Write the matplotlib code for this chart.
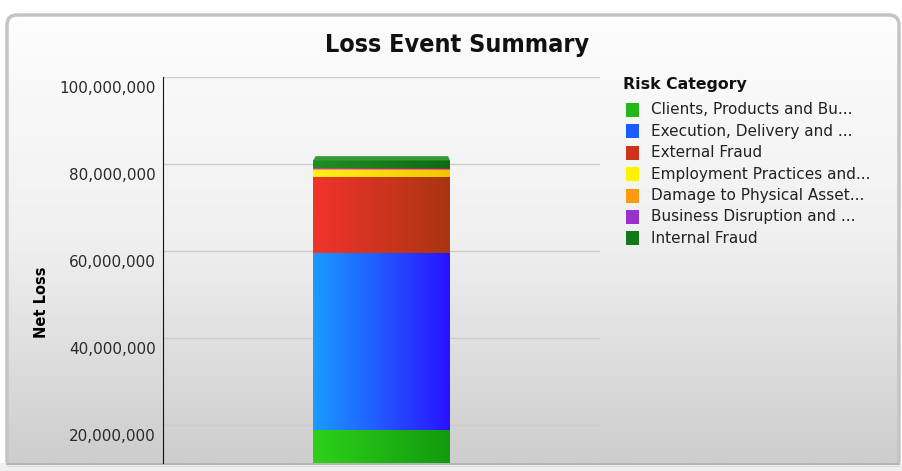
import numpy as np
import matplotlib
matplotlib.use('Agg')
import matplotlib.pyplot as plt
import matplotlib.transforms as mtransforms
from matplotlib.colors import LinearSegmentedColormap
from matplotlib.patches import FancyBboxPatch, Rectangle, Polygon
from matplotlib.ticker import FuncFormatter

categories = ['Clients, Products and Bu...', 'Execution, Delivery and ...', 'External Fraud',
              'Employment Practices and...', 'Damage to Physical Asset...',
              'Business Disruption and ...', 'Internal Fraud']
net_loss = [18.9e6, 40.6e6, 17.5e6, 1.6e6, 0.3e6, 0.1e6, 1.8e6]
# left -> right shading of each segment
shades = [('#2ed11a', '#129a0e'), ('#1a9cff', '#2a12ff'), ('#f2332b', '#a93512'),
          ('#fff21a', '#f2c400'), ('#ffa21a', '#e07800'), ('#a845d8', '#7f22b0'),
          ('#1f8f24', '#0d6a12')]
legend_colors = ['#22b81a', '#1a5cff', '#cc3318', '#fff200', '#ff9a10', '#9932cc', '#117a17']
yticks = [20e6, 40e6, 60e6, 80e6, 100e6]
ymin, ymax = 11.2e6, 100e6

W, H = 903, 471
fig = plt.figure(figsize=(W / 100, H / 100), dpi=100)
fig.patch.set_facecolor('white')

# panel background
bg = fig.add_axes([0, 0, 1, 1], zorder=-10)
bg.set_xlim(0, W)
bg.set_ylim(H, 0)
bg.axis('off')
panel = FancyBboxPatch((7, 15), 892, 490, boxstyle='round,pad=0,rounding_size=10',
                       facecolor='none', edgecolor='#c4c4c4', linewidth=2.5)
bg.add_patch(panel)
grad = np.linspace(0, 1, 256).reshape(-1, 1)
panel_cmap = LinearSegmentedColormap.from_list('panel', ['#fdfdfd', '#f0f0f0', '#cdcdcd'])
im = bg.imshow(grad, cmap=panel_cmap, extent=(7, 899, 463, 15), aspect='auto')
im.set_clip_path(panel)
bg.add_patch(Rectangle((0, 463), W, 10, facecolor='#efefef', edgecolor='none', zorder=5))
bg.plot([7, 899], [463.5, 463.5], color='#a8a8a8', lw=1.2, zorder=6)
bg.plot([7, 899], [465.5, 465.5], color='#dddddd', lw=1, zorder=6)

ax = fig.add_axes([163 / W, 1 - 463 / H, (600 - 163) / W, (463 - 77) / H])
ax.patch.set_alpha(0)

ax.set_yticks(yticks)
ax.yaxis.set_major_formatter(FuncFormatter(lambda v, p: f'{int(v):,}'))
ax.tick_params(axis='y', length=0, pad=5, labelsize=11, labelcolor='#2a2a2a')
shift = mtransforms.ScaledTranslation(0, -10 / 100, fig.dpi_scale_trans)
for lbl in ax.get_yticklabels():
    lbl.set_transform(lbl.get_transform() + shift)
ax.set_xticks([])
ax.grid(axis='y', color='#cccccc', lw=1)
ax.set_axisbelow(True)
for s in ['top', 'right', 'bottom']:
    ax.spines[s].set_visible(False)
ax.spines['left'].set_color('#111111')
ax.set_ylabel('Net Loss', fontsize=10.5, fontweight='bold')
ax.yaxis.set_label_coords(-0.262, 0.417)

bw = 0.313
bottoms = np.concatenate([[0], np.cumsum(net_loss)[:-1]])
bars = ax.bar(0, net_loss, bw, bottom=bottoms, color=legend_colors, zorder=3)
for bar, (c0, c1) in zip(bars, shades):
    cm = LinearSegmentedColormap.from_list('seg', [c0, c1])
    x0 = bar.get_x()
    y0 = bar.get_y()
    y1 = y0 + bar.get_height()
    if y1 <= ymin:
        continue
    img = ax.imshow(np.linspace(0, 1, 128).reshape(1, -1), cmap=cm, aspect='auto',
                    extent=(x0, x0 + bw, max(y0, ymin), y1), zorder=4)
    img.set_clip_path(bar)
    # narrow side face
    ax.add_patch(Rectangle((x0 + bw - 0.012, y0), 0.012, bar.get_height(),
                           facecolor=c1, edgecolor='none', alpha=0.85, zorder=5))
ax.set_xlim(-0.5, 0.5)
ax.set_ylim(ymin, ymax)

# top face of the stack
total = sum(net_loss)
x0 = -bw / 2
ax.add_patch(Polygon([(x0, total), (x0 + 0.006, total + 1.0e6), (x0 + bw - 0.004, total + 1.0e6),
                      (x0 + bw, total)], closed=True, facecolor='#3a9a3a',
                     edgecolor='none', zorder=6))

fig.text(0.5065, 1 - 45 / H, 'Loss Event Summary', ha='center', va='center',
         fontsize=18, fontweight='bold', fontstretch='condensed', color='#111111',
         family='DejaVu Sans')

# legend
lx, ly = 623, 85
fig.text(lx / W, 1 - ly / H, 'Risk Category', ha='left', va='center',
         fontsize=11.3, fontweight='bold', color='#111111')
for i, (name, col) in enumerate(zip(categories, legend_colors)):
    yy = 110 + i * 21.4
    bg.add_patch(Rectangle((626, yy - 7), 13, 14, facecolor=col, edgecolor='none'))
    fig.text(651 / W, 1 - yy / H, name, ha='left', va='center', fontsize=11,
             color='#222222')

fig.savefig('out.png', dpi=100)
